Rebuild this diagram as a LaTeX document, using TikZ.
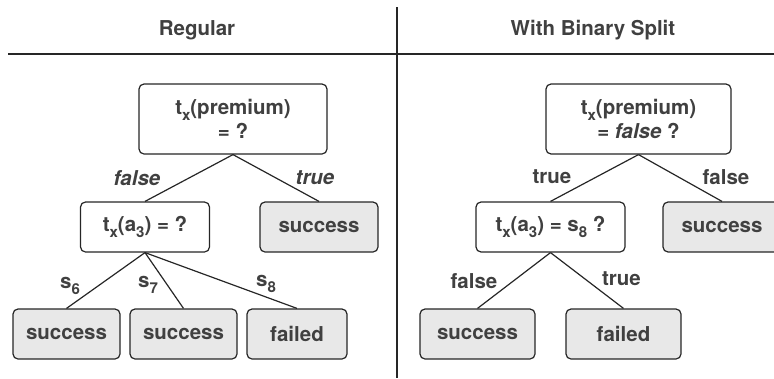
\documentclass[tikz,border=0pt]{standalone}
\usepackage{fontspec}
\setmainfont{TeX Gyre Heros}
\usepackage{xcolor}
\usetikzlibrary{positioning}
\definecolor{txt}{HTML}{404040}
\definecolor{edge}{HTML}{262626}
\definecolor{leafgray}{HTML}{E8E8E8}
\newcommand{\sub}[1]{\raisebox{-0.28em}{\fontsize{15}{15}\selectfont #1}}
\tikzset{box/.style={draw=edge,rounded corners=5pt,line width=1.2pt,align=center,inner sep=2pt,
    text=txt,font=\fontsize{20.5}{24}\selectfont\bfseries,fill=white},
  leaf/.style={box,fill=leafgray},
  lbl/.style={text=txt,font=\fontsize{20.5}{22}\selectfont\bfseries,inner sep=1pt},
  title/.style={text=txt,font=\fontsize{20.5}{22}\selectfont\bfseries},
  link/.style={edge,line width=1.2pt}}

\begin{document}
\begin{tikzpicture}[x=1pt,y=-1pt]
\useasboundingbox (0,0) rectangle (774,378);
% frame
\draw[edge,line width=1.8pt] (8,54) -- (774,54);
\draw[edge,line width=1.4pt] (397,7) -- (397,378);
\node[title] (tl) at (197,30) {Regular};
\node[title] (tr) at (593,30) {With Binary Split};
% regular tree
\begin{scope}
\node[box,minimum width=188pt,minimum height=70pt] (r) at (233,119) {t\sub{x}(premium)\\= ?};
\node[box,minimum width=129pt,minimum height=50pt] (a) at (145,227) {t\sub{x}(a\sub{3}) = ?};
\node[leaf,minimum width=118pt,minimum height=50pt] (s) at (319,227) {success};
\node[leaf,minimum width=107pt,minimum height=50pt] (l1) at (66.5,334) {success};
\node[leaf,minimum width=107pt,minimum height=50pt] (l2) at (183.5,334) {success};
\node[leaf,minimum width=100pt,minimum height=50pt] (l3) at (297,334) {failed};
\draw[link] (r.south) -- (a.north);
\draw[link] (r.south) -- (s.north);
\foreach \l in {l1,l2,l3} \draw[link] (a.south) -- (\l.north);
\node[lbl] at (137,178) {\itshape false};
\node[lbl] at (315,178) {\itshape true};
\foreach \x/\y/\k in {70/286/6,148/285/7,266/284/8} \node[lbl] at (\x,\y) {s\sub{\k}};
\end{scope}
% binary split tree
\begin{scope}
\node[box,minimum width=185pt,minimum height=70pt] (br) at (638.5,119) {t\sub{x}(premium)\\= \textit{false} ?};
\node[box,minimum width=149pt,minimum height=50pt] (ba) at (550.5,227) {t\sub{x}(a\sub{3}) = s\sub{8} ?};
\node[leaf,minimum width=118pt,minimum height=50pt] (bs) at (722,227) {success};
\node[leaf,minimum width=115pt,minimum height=50pt] (bl1) at (477.5,334) {success};
\node[leaf,minimum width=115pt,minimum height=50pt] (bl2) at (623.5,334) {failed};
\draw[link] (br.south) -- (ba.north);
\draw[link] (br.south) -- (bs.north);
\draw[link] (ba.south) -- (bl1.north);
\draw[link] (ba.south) -- (bl2.north);
\node[lbl] at (552,177) {true};
\node[lbl] at (726,177) {false};
\node[lbl] at (474,281) {false};
\node[lbl] at (621.5,279) {true};
\end{scope}
\end{tikzpicture}
\end{document}
